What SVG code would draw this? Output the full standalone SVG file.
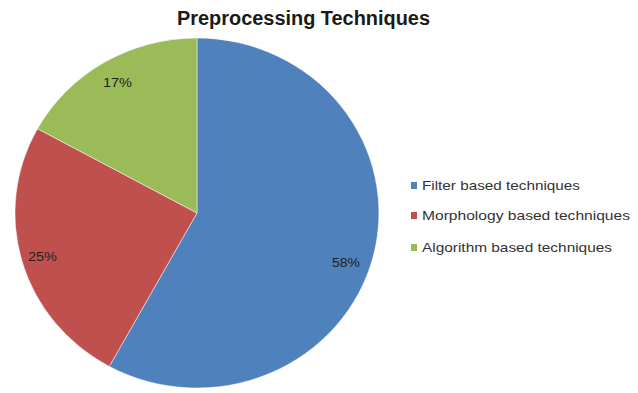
<svg xmlns="http://www.w3.org/2000/svg" width="638" height="393" viewBox="0 0 638 393">
<style>
.title{font-family:"Liberation Sans",Arial,sans-serif;font-weight:bold;font-size:20px;fill:#1a1a1a}
.pct{font-family:"Liberation Sans",Arial,sans-serif;font-size:12px;fill:#222}
.leg{font-family:"Liberation Sans",Arial,sans-serif;font-size:13px;fill:#333}
.sl{stroke:#ffffff;stroke-width:0.8;stroke-opacity:0.6}
</style>
<rect width="638" height="393" fill="#ffffff"/>
<text class="title" x="177" y="25" textLength="253" lengthAdjust="spacingAndGlyphs">Preprocessing Techniques</text>
<g id="slice-filter">
<path class="sl" fill="#4F81BD" d="M197,213 L197,38 A182,175 0 1,1 109.3,366.4 Z"/>
<text class="pct" x="332" y="267" textLength="28" lengthAdjust="spacingAndGlyphs">58%</text>
</g>
<g id="slice-morphology">
<path class="sl" fill="#C0504D" d="M197,213 L109.3,366.4 A182,175 0 0,1 37.5,128.7 Z"/>
<text class="pct" x="28" y="261" textLength="29" lengthAdjust="spacingAndGlyphs">25%</text>
</g>
<g id="slice-algorithm">
<path class="sl" fill="#9BBB59" d="M197,213 L37.5,128.7 A182,175 0 0,1 197,38 Z"/>
<text class="pct" x="103" y="87" textLength="29" lengthAdjust="spacingAndGlyphs">17%</text>
</g>
<g id="legend">
<rect x="411" y="182" width="6" height="7" fill="#4F81BD"/>
<text class="leg" x="422" y="190" textLength="158" lengthAdjust="spacingAndGlyphs">Filter based techniques</text>
<rect x="411" y="212" width="6" height="7" fill="#C0504D"/>
<text class="leg" x="422" y="220" textLength="208" lengthAdjust="spacingAndGlyphs">Morphology based techniques</text>
<rect x="411" y="244" width="6" height="7" fill="#9BBB59"/>
<text class="leg" x="422" y="252" textLength="190" lengthAdjust="spacingAndGlyphs">Algorithm based techniques</text>
</g>
</svg>
